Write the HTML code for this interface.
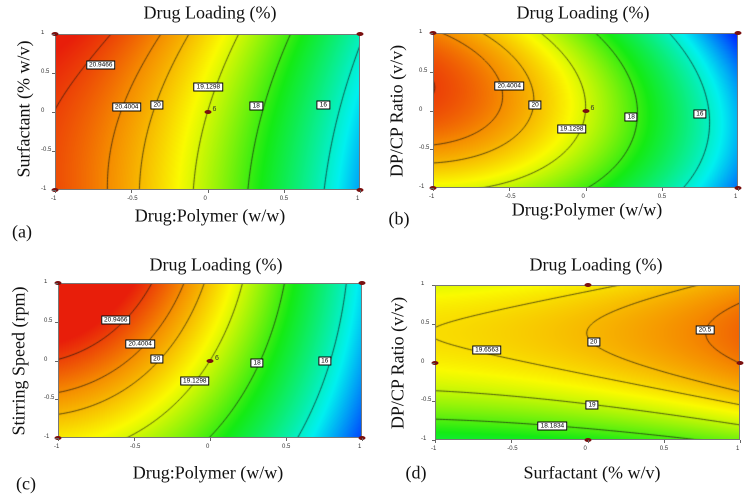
<!DOCTYPE html>
<html><head><meta charset="utf-8">
<style>
body{margin:0;background:#fff;width:745px;height:492px;overflow:hidden;position:relative;font-family:"Liberation Serif",serif}
.t{position:absolute;font-family:"Liberation Serif",serif;font-size:18px;color:#111;white-space:nowrap;transform:translate(-50%,-50%)}
.yt{position:absolute;font-family:"Liberation Serif",serif;font-size:18px;color:#111;white-space:nowrap;transform:translate(-50%,-50%) rotate(-90deg)}
.plot{position:absolute}
.plot canvas{position:absolute;left:0;top:0}
.frame{position:absolute;left:0;top:0;right:0;bottom:0;border:1px solid #777;box-sizing:border-box}
.tk{position:absolute;font-family:"Liberation Sans",sans-serif;font-size:6px;color:#333;white-space:nowrap}
.lb{position:absolute;font-family:"Liberation Sans",sans-serif;font-size:6.5px;line-height:7px;background:#fff;border:1px solid #000;padding:0 2px;transform:translate(-50%,-50%);white-space:nowrap}
.dot{position:absolute;width:7px;height:4px;border-radius:50%;background:#7a1010;transform:translate(-50%,-50%)}
</style></head><body>
<div class="t" style="left:210px;top:13px">Drug Loading (%)</div>
<div class="t" style="left:210px;top:216px">Drug:Polymer (w/w)</div>
<div class="yt" style="left:24px;top:109px">Surfactant (% w/v)</div>
<div class="t" style="left:22px;top:232px">(a)</div>

<div class="t" style="left:583px;top:13px">Drug Loading (%)</div>
<div class="t" style="left:587px;top:210px">Drug:Polymer (w/w)</div>
<div class="yt" style="left:397px;top:111px">DP/CP Ratio (v/v)</div>
<div class="t" style="left:399px;top:219px">(b)</div>

<div class="t" style="left:216px;top:265px">Drug Loading (%)</div>
<div class="t" style="left:208px;top:473px">Drug:Polymer (w/w)</div>
<div class="yt" style="left:19px;top:361px">Stirring Speed (rpm)</div>
<div class="t" style="left:26px;top:484px">(c)</div>

<div class="t" style="left:596px;top:265px">Drug Loading (%)</div>
<div class="t" style="left:592px;top:473px">Surfactant (% w/v)</div>
<div class="yt" style="left:398px;top:363px">DP/CP Ratio (v/v)</div>
<div class="t" style="left:416px;top:473px">(d)</div>

<script>
const coefA = [19.13, -2.79, -0.98, 0.42, 0.2, 0.15];
const coefB = [19.13, -2.915, -1.18, 0.1, -0.5, -1.0];
const coefC = [19.13, -3.0, -1.2, 0.95, -0.25, -0.2];
const coefD = [19.83, 0.51, 0.17, 0.91, 0.0, -1.2];
const levelsABC = [16, 18, 19.1298, 20, 20.4004, 20.9466];
const levelsD = [18.1834, 19, 19.6563, 20, 20.5];
const labelsA = [["20.9466",-0.70,0.6],["20.4004",-0.53,0.07],["20",-0.33,0.09],["19.1298",0.006,0.32],["18",0.32,0.08],["16",0.76,0.09]];
const labelsB = [["20.4004",-0.50,0.31],["20",-0.33,0.07],["19.1298",-0.09,-0.24],["18",0.30,-0.09],["16",0.75,-0.04]];
const labelsC = [["20.9466",-0.62,0.52],["20.4004",-0.46,0.21],["20",-0.35,0.02],["19.1298",-0.10,-0.27],["18",0.31,-0.03],["16",0.755,0]];
const labelsD = [["19.6563",-0.66,0.16],["20",0.04,0.26],["20.5",0.77,0.42],["19",0.03,-0.55],["18.1834",-0.23,-0.82]];
const pointsABC = [[-1,1],[1,1],[-1,-1],[1,-1],[0,0]];
const pointsD = [[0,1],[-1,0],[1,0],[0,-1]];
const tickVals = [-1,-0.5,0,0.5,1];
const tickLabels = ["-1","-0.5","0","0.5","1"];
const colorVals = [13.8, 15.6, 17.7, 19.4, 20.4, 21.2];
const colorRGB = [[0,40,255],[0,240,240],[20,235,20],[250,250,0],[245,140,0],[232,30,10]];

const panels = [
  {id:"a",x:55,y:34,w:305,h:156,coef:coefA,levels:levelsABC,labels:labelsA,pts:pointsABC,center:true},
  {id:"b",x:433,y:33,w:305,h:155,coef:coefB,levels:levelsABC,labels:labelsB,pts:pointsABC,center:true},
  {id:"c",x:58,y:283,w:304,h:155,coef:coefC,levels:levelsABC,labels:labelsC,pts:pointsABC,center:true},
  {id:"d",x:435,y:285,w:305,h:155,coef:coefD,levels:levelsD,labels:labelsD,pts:pointsD,center:false}
];
function zf(c,A,B){return c[0]+c[1]*A+c[2]*A*A+c[3]*B+c[4]*A*B+c[5]*B*B;}
function col(z){
  if(z<=colorVals[0])return colorRGB[0];
  for(let i=1;i<colorVals.length;i++){
    if(z<=colorVals[i]){const t=(z-colorVals[i-1])/(colorVals[i]-colorVals[i-1]);
      return colorRGB[i].map((v,k)=>colorRGB[i-1][k]+(v-colorRGB[i-1][k])*t);}
  }
  return colorRGB[colorRGB.length-1];
}
panels.forEach(p=>{
  const sx=A=>(A+1)/2*p.w, sy=B=>(1-B)/2*p.h;
  const ax=x=>x/p.w*2-1, ay=y=>1-y/p.h*2;
  const div=document.createElement('div');
  div.className='plot';div.style.left=p.x+'px';div.style.top=p.y+'px';div.style.width=p.w+'px';div.style.height=p.h+'px';
  
  
  document.body.appendChild(div);
  const cv=document.createElement('canvas');cv.width=p.w;cv.height=p.h;
  
  
  div.appendChild(cv);
  const ctx=cv.getContext('2d');
  const img=ctx.createImageData(p.w,p.h);
  for(let y=0;y<p.h;y++)for(let x=0;x<p.w;x++){
    const c=col(zf(p.coef,ax(x+0.5),ay(y+0.5)));const i=(y*p.w+x)*4;
    img.data[i]=c[0];img.data[i+1]=c[1];img.data[i+2]=c[2];img.data[i+3]=255;}
  ctx.putImageData(img,0,0);
  ctx.strokeStyle='#111';ctx.lineWidth=0.7;
  const st=1.5,nx=Math.ceil(p.w/st),ny=Math.ceil(p.h/st);
  p.levels.forEach(L=>{
    ctx.beginPath();
    for(let j=0;j<ny;j++)for(let i=0;i<nx;i++){
      const x0=i*st,y0=j*st,x1=x0+st,y1=y0+st;
      const v=[zf(p.coef,ax(x0),ay(y0)),zf(p.coef,ax(x1),ay(y0)),zf(p.coef,ax(x1),ay(y1)),zf(p.coef,ax(x0),ay(y1))];
      const cx=[[x0,y0],[x1,y0],[x1,y1],[x0,y1]];const pts=[];
      for(let e=0;e<4;e++){const a=v[e],b=v[(e+1)%4];
        if((a-L)*(b-L)<0){const t=(L-a)/(b-a);const P=cx[e],Q=cx[(e+1)%4];pts.push([P[0]+(Q[0]-P[0])*t,P[1]+(Q[1]-P[1])*t]);}}
      for(let k=0;k+1<pts.length;k+=2){ctx.moveTo(pts[k][0],pts[k][1]);ctx.lineTo(pts[k+1][0],pts[k+1][1]);}
    }
    ctx.stroke();
  });
  const fr=document.createElement('div');fr.className='frame';
  
  
  div.appendChild(fr);
  p.labels.forEach(l=>{
    const e=document.createElement('div');e.className='lb';e.textContent=l[0];
    e.style.left=sx(l[1])+'px';e.style.top=sy(l[2])+'px';
    
    
    div.appendChild(e);
  });
  p.pts.forEach(q=>{
    const e=document.createElement('div');e.className='dot';
    e.style.left=sx(q[0])+'px';e.style.top=sy(q[1])+'px';
    
    
    div.appendChild(e);
  });
  if(p.center){
    const e=document.createElement('div');e.className='tk';e.textContent='6';
    e.style.left=(sx(0)+5)+'px';e.style.top=(sy(0)-6)+'px';e.style.fontSize='7px';
    
    
    div.appendChild(e);
  }
  tickVals.forEach((t,i)=>{
    const xl=document.createElement('div');xl.className='tk';xl.textContent=tickLabels[i];
    xl.style.left=(p.x+sx(t)-4)+'px';xl.style.top=(p.y+p.h+6)+'px';
    
    
    document.body.appendChild(xl);
    const yl=document.createElement('div');yl.className='tk';yl.textContent=tickLabels[i];
    yl.style.left=(p.x-14)+'px';yl.style.top=(p.y+sy(t)-4)+'px';
    
    
    document.body.appendChild(yl);
    const xm=document.createElement('div');xm.style.cssText='position:absolute;width:1px;height:3px;background:#666;left:'+(p.x+sx(t))+'px;top:'+(p.y+p.h)+'px';
    
    
    document.body.appendChild(xm);
    const ym=document.createElement('div');ym.style.cssText='position:absolute;width:3px;height:1px;background:#666;left:'+(p.x-3)+'px;top:'+(p.y+sy(t))+'px';
    
    
    document.body.appendChild(ym);
  });
});
</script>
</body></html>
